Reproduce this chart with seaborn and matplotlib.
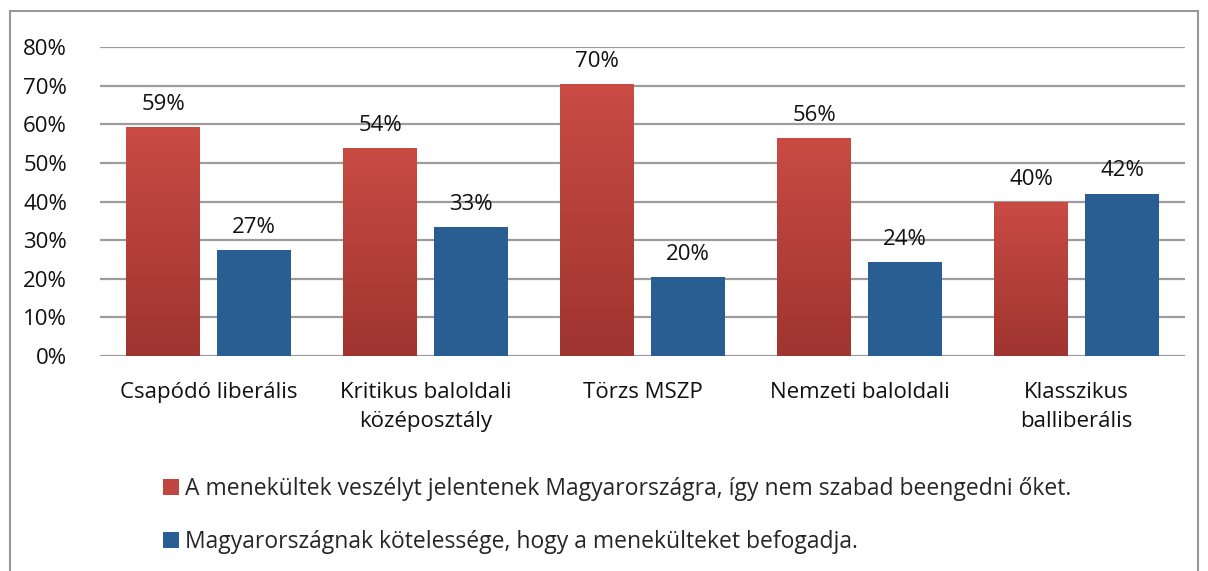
import numpy as np
import pandas as pd
import matplotlib
matplotlib.use("Agg")
import matplotlib.pyplot as plt
from matplotlib.patches import Rectangle, Patch
import seaborn as sns

categories = ["Csapódó liberális", "Kritikus baloldali\nközéposztály", "Törzs MSZP",
              "Nemzeti baloldali", "Klasszikus\nballiberális"]
series_names = ["A menekültek veszélyt jelentenek Magyarországra, így nem szabad beengedni őket.",
                "Magyarországnak kötelessége, hogy a menekülteket befogadja."]
danger = [59.2, 53.8, 70.4, 56.4, 39.9]
duty = [27.4, 33.4, 20.4, 24.3, 42.0]
yticks = [0, 10, 20, 30, 40, 50, 60, 70, 80]

df = pd.DataFrame({
    "cat": categories * 2,
    "series": [series_names[0]] * 5 + [series_names[1]] * 5,
    "value": danger + duty,
})

sns.set_style("white")
plt.rcParams["font.family"] = ["Open Sans", "DejaVu Sans"]

red = "#c0463f"
blue = "#285e91"
fs = 16

fig = plt.figure(figsize=(12.08, 5.71), dpi=100)
ax = fig.add_axes([0.083, 0.3765, 0.898, 0.5412])

sns.barplot(data=df, x="cat", y="value", hue="series", hue_order=series_names,
            palette=[red, blue], width=0.838, gap=0.186, ax=ax, legend=False,
            saturation=1, linewidth=0, zorder=3)

ax.set_ylim(0, 80)
ax.set_yticks(yticks)
ax.set_yticklabels([f"{t}%" for t in yticks])
ax.set_xlim(-0.5, 4.5)
ax.yaxis.grid(True, color="#9c9c9c", linewidth=1.6, zorder=0)
ax.set_axisbelow(True)
for s in ax.spines.values():
    s.set_visible(False)
ax.tick_params(axis="both", length=0, labelsize=fs, colors="#111111")
ax.tick_params(axis="x", pad=19)
ax.tick_params(axis="y", pad=24)
for lab in ax.get_xticklabels():
    lab.set_linespacing(1.45)
ax.set_xlabel("")
ax.set_ylabel("")

# gradient on red bars, labels on all
grad = np.linspace(0, 1, 256).reshape(-1, 1)
cmap = matplotlib.colors.LinearSegmentedColormap.from_list("r", ["#9f3430", "#c94b44"])
for container in ax.containers:
    for bar in container:
        h = bar.get_height()
        x0 = bar.get_x()
        w = bar.get_width()
        if bar.get_facecolor()[0] > 0.5:
            im = ax.imshow(grad, cmap=cmap, aspect="auto", origin="lower",
                           extent=[x0, x0 + w, 0, h], zorder=3.5)
            im.set_clip_path(bar)
        ax.text(x0 + w / 2, h + 3.2, f"{h:.0f}%", ha="center", va="bottom",
                fontsize=fs, color="#111111")

handles = [Patch(facecolor=red, edgecolor="none"), Patch(facecolor=blue, edgecolor="none")]
fig.legend(handles, series_names, loc="upper left", bbox_to_anchor=(0.118, 0.2),
           frameon=False, fontsize=16.5, handlelength=0.7, handleheight=0.7,
           handletextpad=0.25, labelspacing=1.25)

fig.patches.append(Rectangle((10 / 1208, -0.05), 1188 / 1208, 1.05 - 11 / 571,
                             transform=fig.transFigure, fill=False,
                             edgecolor="#999999", linewidth=1.5))

fig.savefig("out.png", dpi=100)
